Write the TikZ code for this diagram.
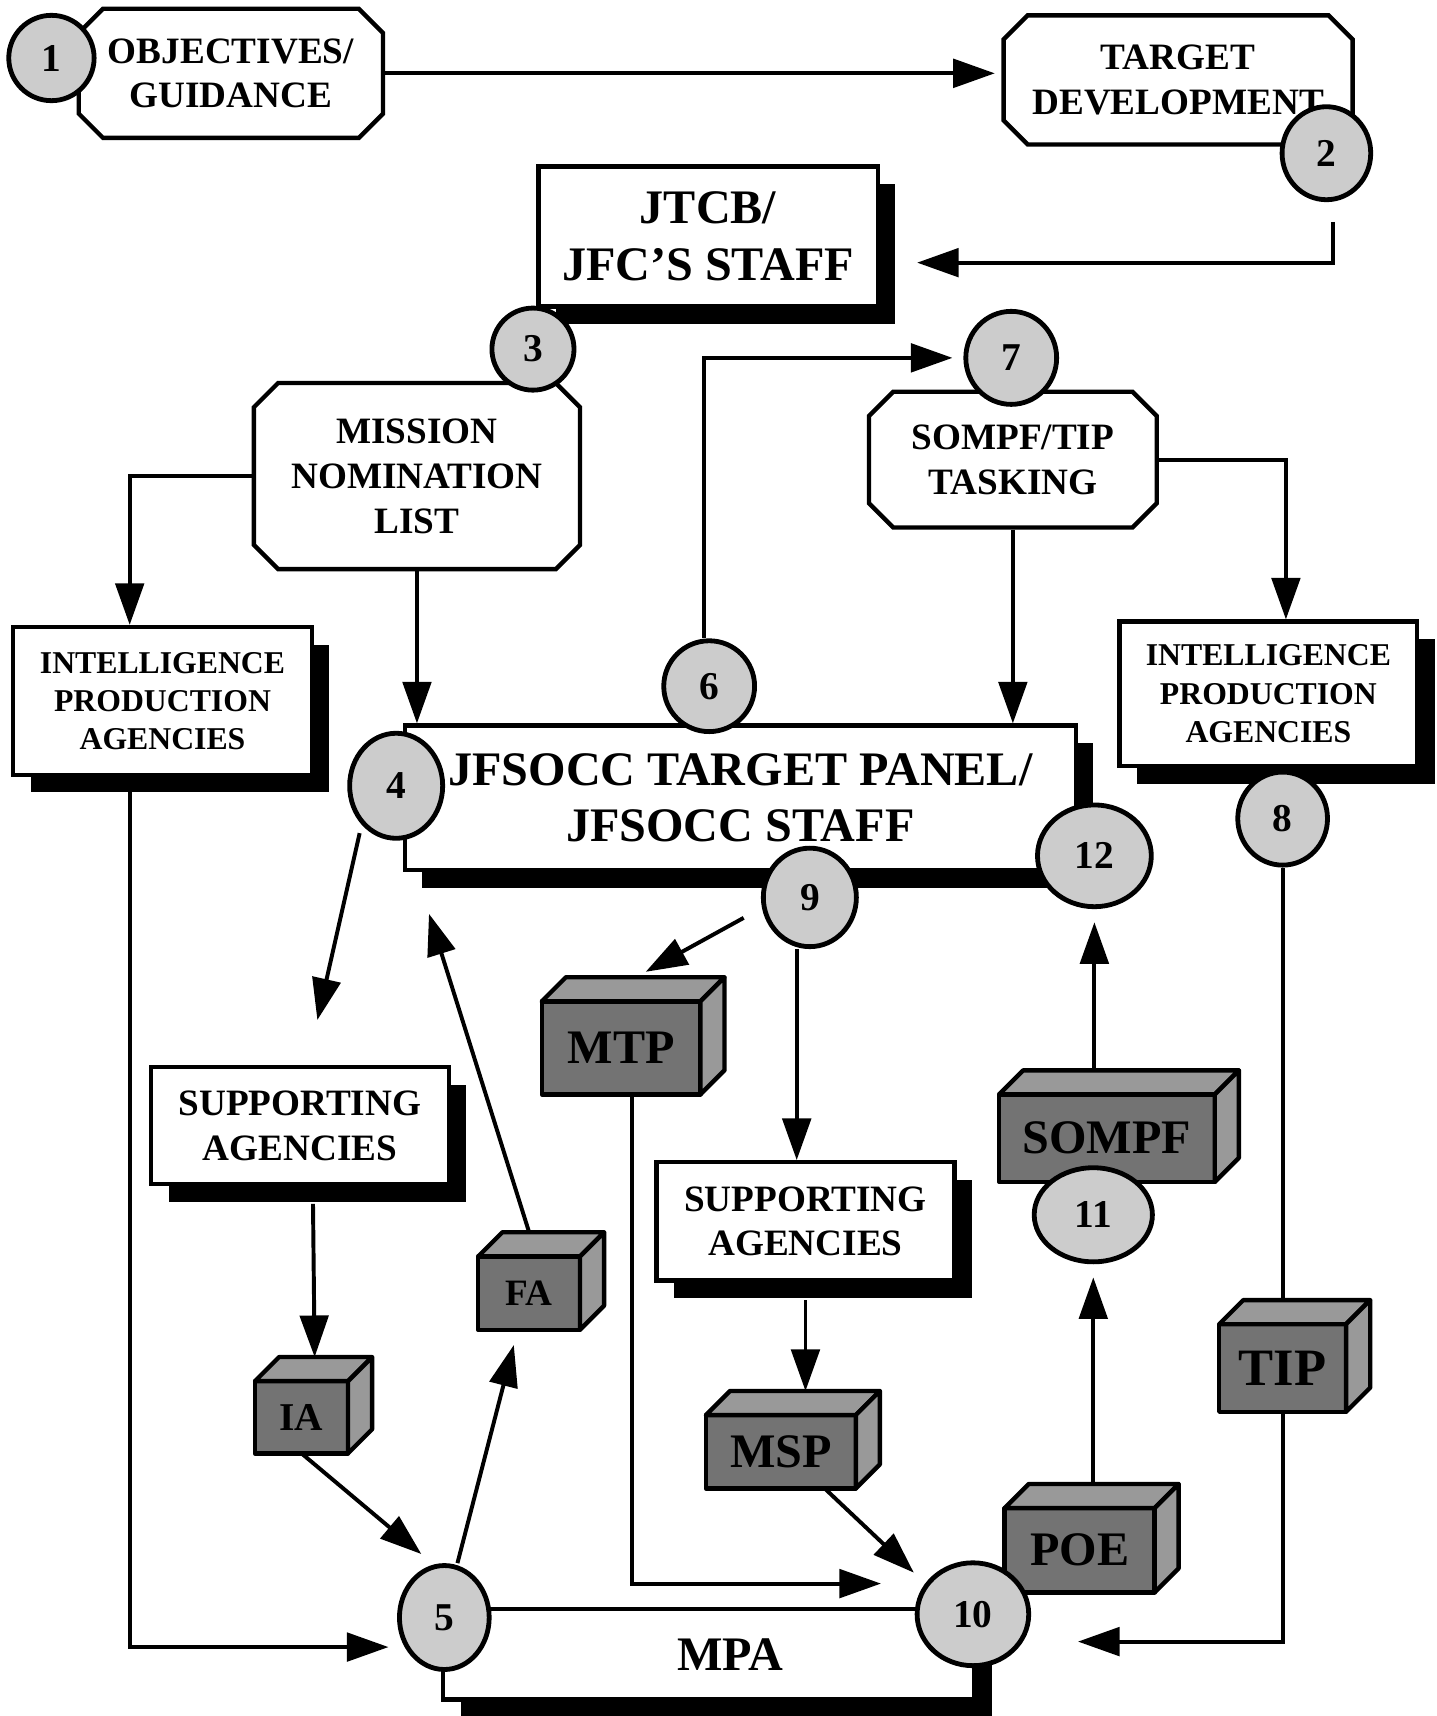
\documentclass[tikz,border=0pt]{standalone}
\usepackage{fontspec}
\setmainfont{Liberation Serif}
\usetikzlibrary{shapes.misc,shapes.geometric,shadows,arrows.meta,calc}

\newcommand\fbig{\fontsize{22}{26}\selectfont\bfseries}
\newcommand\fmid{\fontsize{17}{20.5}\selectfont\bfseries}
\newcommand\fsml{\fontsize{14.5}{17.5}\selectfont\bfseries}

\tikzset{
  flow/.style={line width=1.8pt,-{Triangle[length=19pt,width=13pt]}},
  plain/.style={line width=1.8pt},
  chambox/.style={chamfered rectangle,chamfered rectangle xsep=8pt,draw,line width=2pt,fill=white,align=center,inner sep=0pt,font=\fmid},
  sbox/.style={rectangle,draw,line width=2pt,fill=white,align=center,inner sep=0pt,font=\fmid,
    drop shadow={shadow xshift=8pt,shadow yshift=-8pt,fill=black,opacity=1}},
  num/.style={ellipse,draw,line width=2.2pt,fill=black!20,inner sep=0pt,font=\fontsize{18}{18}\selectfont\bfseries},
  cube/.style={rectangle,draw,line width=2pt,line join=round,outer sep=0pt,fill=black!55,inner sep=0pt,font=\fontsize{22}{22}\selectfont\bfseries},
  cubeface/.style={draw,line width=2pt,line join=round,fill=black!40},
}

\begin{document}
\begin{tikzpicture}[x=0.5pt,y=-0.5pt]
\useasboundingbox[fill=white] (0,0) rectangle (1313,1568);

% boxes
\node[chambox,minimum width=139pt,minimum height=59pt] (obj) at (211,67) {OBJECTIVES/\\GUIDANCE};
\node[chambox,minimum width=159.5pt,minimum height=59pt] (tdev) at (1076.5,73) {TARGET\\DEVELOPMENT};
\node[sbox,minimum width=155pt,minimum height=64pt,font=\fbig] (jtcb) at (647,216) {JTCB/\\JFC'S STAFF};
\node[chambox,minimum width=149pt,minimum height=85pt] (mnl) at (381,435) {MISSION\\NOMINATION\\LIST};
\node[chambox,minimum width=131.5pt,minimum height=62pt] (stask) at (925.5,420) {SOMPF/TIP\\TASKING};
\node[sbox,minimum width=136.5pt,minimum height=67.5pt,font=\fsml] (ipaL) at (148.5,640.5) {INTELLIGENCE\\PRODUCTION\\AGENCIES};
\node[sbox,minimum width=136pt,minimum height=66pt,font=\fsml] (ipaR) at (1159,634) {INTELLIGENCE\\PRODUCTION\\AGENCIES};
\node[sbox,minimum width=306.5pt,minimum height=66pt,font=\fbig] (jfsocc) at (676.5,729) {JFSOCC TARGET PANEL/\\JFSOCC STAFF};
\node[sbox,minimum width=136pt,minimum height=53.5pt] (supL) at (274,1028.5) {SUPPORTING\\AGENCIES};
\node[sbox,minimum width=136pt,minimum height=54pt] (supR) at (736,1116) {SUPPORTING\\AGENCIES};
\node[sbox,minimum width=242.5pt,minimum height=41.5pt,font=\fbig] (mpa) at (647.5,1511.5) {\hspace*{20pt}MPA};

% products
\node[cube,minimum width=72.5pt,minimum height=42.5pt] (mtp) at (567.5,957.5) {MTP};
\node[cube,minimum width=98.5pt,minimum height=40pt] (sompf) at (1011.5,1040) {SOMPF};
\node[cube,minimum width=68.5pt,minimum height=38.5pt] (poe) at (986.5,1416.5) {POE};
\node[cube,minimum width=58pt,minimum height=40pt,font=\fontsize{24}{24}\selectfont\bfseries] (tip) at (1172,1250) {TIP};
\node[cube,minimum width=68.5pt,minimum height=33.5pt] (msp) at (713.5,1326.5) {MSP};
\node[cube,minimum width=46.5pt,minimum height=33.5pt,font=\fontsize{17}{17}\selectfont\bfseries] (fa) at (483.5,1181.5) {FA};
\node[cube,minimum width=42.5pt,minimum height=33pt,font=\fontsize{18}{18}\selectfont\bfseries] (ia) at (275.5,1295) {IA};
\foreach \c in {mtp,sompf,poe,tip,msp,fa,ia}{
  \draw[cubeface] (\c.north west) -- ++(11pt,11pt) -- ([shift={(11pt,11pt)}]\c.north east) -- (\c.north east) -- cycle;
  \draw[cubeface] (\c.north east) -- ++(11pt,11pt) -- ([shift={(11pt,11pt)}]\c.south east) -- (\c.south east) -- cycle;
}

% steps
\node[num,minimum width=39pt,minimum height=39pt] (c1) at (47,53) {1};
\node[num,minimum width=40.5pt,minimum height=42.5pt] (c2) at (1212,140) {2};
\node[num,minimum width=37.5pt,minimum height=37.5pt] (c3) at (487,319) {3};
\node[num,minimum width=42.5pt,minimum height=48pt] (c4) at (362,718) {4};
\node[num,minimum width=41pt,minimum height=47.5pt] (c5) at (406,1478) {5};
\node[num,minimum width=41.5pt,minimum height=41.5pt] (c6) at (648,627) {6};
\node[num,minimum width=41.5pt,minimum height=42.5pt] (c7) at (924,327) {7};
\node[num,minimum width=41pt,minimum height=42.5pt] (c8) at (1172,748) {8};
\node[num,minimum width=42.5pt,minimum height=45pt] (c9) at (740,820) {9};
\node[num,minimum width=51pt,minimum height=47pt] (c10) at (889,1475) {10};
\node[num,minimum width=54pt,minimum height=43pt] (c11) at (999,1110) {11};
\node[num,minimum width=52pt,minimum height=46.5pt] (c12) at (1000,782) {12};

% free ends
\coordinate (a2) at (838,240);
\coordinate (a5) at (355,1505);
\coordinate (a10) at (985,1500);
\coordinate (tipC4) at (290,932);
\coordinate (tipIA) at (385,1420);
\coordinate (tipFA) at (392,835);
\coordinate (tipMTP) at (590,888);
\coordinate (tipMTPb) at (805,1447);
\coordinate (tipMSP) at (835,1437);

% connectors
\draw[flow,shorten >=3pt] (obj.east) -- (obj.east -| tdev.west);
\draw[flow,shorten <=9pt] ([xshift=3pt]c2.south) |- (a2);
\draw[flow] (mnl.west) -| ([xshift=-15pt]ipaL.north);
\draw[flow] (mnl.south) -- (mnl.south |- jfsocc.north);
\draw[flow,shorten >=5pt] ([xshift=-2.5pt]c6.north) |- (c7.west);
\draw[flow] (stask.east) -| ([xshift=8pt]ipaR.north);
\draw[flow] (stask.south) -- (stask.south |- jfsocc.north);
\draw[plain] (c8.south) -- ([yshift=11pt]tip.north);
\draw[flow] (tip.south) |- (a10);
\draw[flow] ([xshift=-15pt]ipaL.south) |- (a5);
\draw[flow,shorten <=4pt] (c4.south west) -- (tipC4);
\draw[flow] ([xshift=6pt,yshift=-8pt]supL.south) -- ([xshift=6pt,yshift=11pt]ia.north);
\draw[flow] (ia.south) -- (tipIA);
\draw[flow] ([xshift=6pt]c5.north) -- ([xshift=-7pt,yshift=-7pt]fa.south);
\draw[flow] ([yshift=11pt]fa.north) -- (tipFA);
\draw[flow,shorten <=9pt] ([yshift=-5pt]c9.west) -- (tipMTP);
\draw[flow] ([xshift=5pt]mtp.south) |- (tipMTPb);
\draw[flow] ([xshift=-6pt]c9.south) -- ([xshift=-6pt]c9.south |- supR.north);
\draw[flow] ([yshift=-8pt]supR.south) -- ($(supR.south |- msp.north)+(0,11pt)$);
\draw[flow] ([xshift=20pt]msp.south) -- (tipMSP);
\draw[flow,shorten >=6pt] ($(c11.south |- poe.north)+(0,11pt)$) -- (c11.south);
\draw[flow,shorten >=6pt] ($(c12.south |- sompf.north)+(0,11pt)$) -- (c12.south);
\end{tikzpicture}
\end{document}
